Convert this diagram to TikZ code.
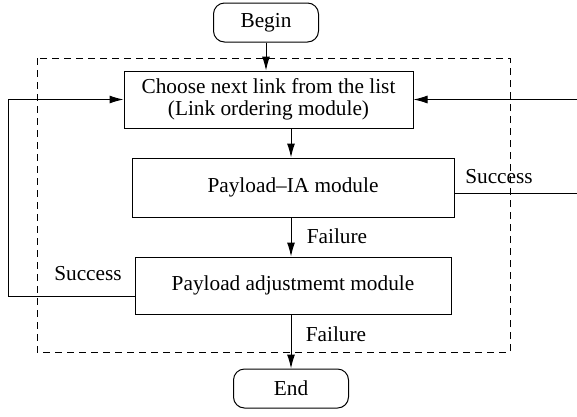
\documentclass[tikz,border=0pt]{standalone}
\usepackage{fontspec}
\setmainfont{Liberation Serif}
\usetikzlibrary{arrows.meta}

\tikzset{
  box/.style={draw, line width=1pt, minimum height=57pt, inner sep=2pt},
  term/.style={draw, line width=1pt, rounded corners=11pt, minimum height=39pt},
  arr/.style={line width=1pt, -{Latex[length=14pt,width=8pt]}},
  lbl/.style={inner sep=0pt},
}

\begin{document}
\begin{tikzpicture}[x=1pt, y=-1pt, font=\fontsize{21.3}{22}\selectfont]

\useasboundingbox (0,0) rectangle (577,416);

% the block
\draw[dashed, line width=1pt, dash pattern=on 7pt off 5pt] (37,58) rectangle (510,352);

\node[term, minimum width=105pt] (begin) at (266,22.5) {Begin};
\node[box, minimum width=289pt, align=center] (choose) at (268.5,99.5)
  {Choose next link from the list\\(Link ordering module)};
\node[box, minimum width=322pt, minimum height=59pt] (ia) at (293,187.5) {Payload–IA module};
\node[box, minimum width=316pt] (adj) at (293,285.5) {Payload adjustmemt module};
\node[term, minimum width=115pt] (end) at (291,388.5) {End};

\coordinate (lc) at (8,296);
\coordinate (rc) at (590,193);
\coordinate (mid) at (291,0);

\draw[arr] (begin.south) -- (begin.south |- choose.north);
\draw[arr] (mid |- choose.south) -- (mid |- ia.north);
\draw[arr] (mid |- ia.south) -- (mid |- adj.north);
\draw[arr] (mid |- adj.south) -- (mid |- end.north);

\draw[arr] (adj.west |- lc) -- (lc) |- (choose.west);
\draw[arr] (ia.east |- rc) -- (rc) |- (choose.east);

\node[lbl] (fail1) at (337,236) {Failure};
\node[lbl] (fail2) at (336,334) {Failure};
\node[lbl] (succl) at (88,274) {Success};
\node[lbl] (succr) at (499,177) {Success};

\end{tikzpicture}
\end{document}
